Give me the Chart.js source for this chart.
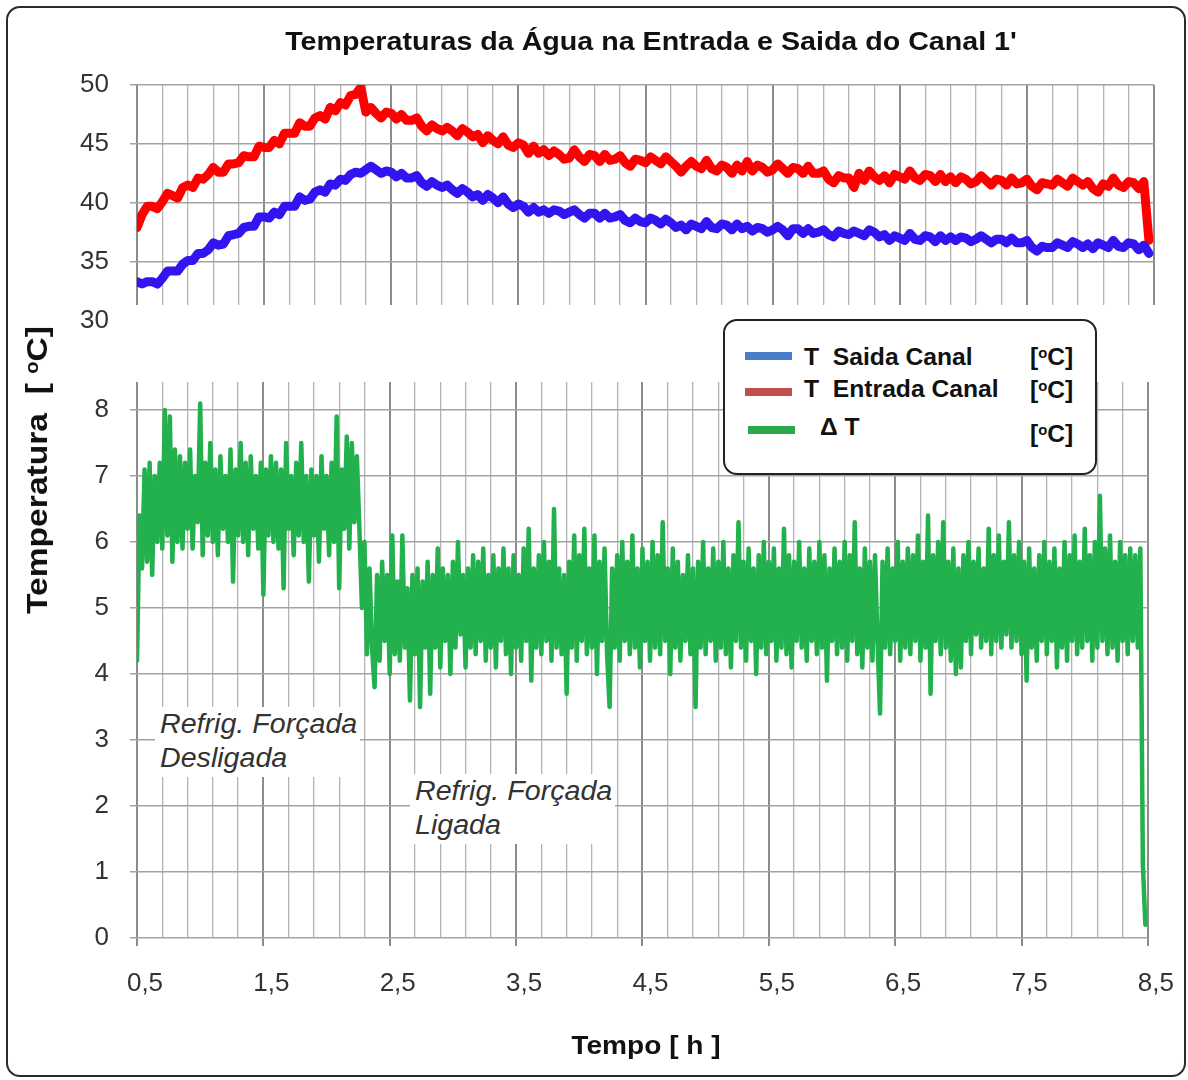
<!DOCTYPE html>
<html lang="pt">
<head>
<meta charset="utf-8">
<title>Temperaturas da Água na Entrada e Saida do Canal 1'</title>
<script src="https://cdn.jsdelivr.net/npm/chart.js@4.4.1/dist/chart.umd.min.js"></script>
<style>
  html, body { margin:0; padding:0; background:#fff; }
  #wrap { position:relative; width:1188px; height:1080px; overflow:hidden; background:#fff;
          font-family:"Liberation Sans", Arial, Helvetica, sans-serif; color:#111; }
  #frame { position:absolute; left:6px; top:6px; width:1180px; height:1071px; box-sizing:border-box;
           border:2px solid #2a2a2a; border-radius:14px; }
  canvas { position:absolute; left:0; top:0; }
  .txt { position:absolute; white-space:pre; line-height:1; }
  .sup { font-size:0.6em; vertical-align:0.5em; }
  #titulo { left:651px; top:41px; font-weight:bold; font-size:26.5px; color:#111;
            transform:translate(-50%,-50%) scaleX(1.08); }
  #xtitulo { left:646px; top:1045px; font-weight:bold; font-size:26.5px; color:#111;
             transform:translate(-50%,-50%) scaleX(1.06); }
  #ytitulo { left:37px; top:470px; font-weight:bold; font-size:30px; color:#111;
             transform:translate(-50%,-50%) rotate(-90deg) scaleX(1.12); }
  .nota { position:absolute; background:#fff; white-space:nowrap; font-style:italic; font-size:27px;
          line-height:34px; color:#333; box-sizing:border-box; padding-left:5px; width:205px; height:70px; }
  .nota span { display:inline-block; transform:scaleX(1.06); transform-origin:left center; }
  #nota1 { left:155px; top:707px; }
  #nota2 { left:410px; top:774px; }
  #legenda { position:absolute; left:723px; top:319px; width:374px; height:156px; box-sizing:border-box;
             border:2px solid #222; border-radius:14px; background:#fff; }
  .sw { position:absolute; height:8px; }
  .lt { position:absolute; white-space:pre; line-height:1; font-weight:bold; font-size:23.5px; color:#111;
        transform:translateY(-50%) scaleX(1.05); transform-origin:left center; }
</style>
</head>
<body>
<div id="wrap">
  <div id="frame"></div>
  <canvas id="cTop" width="1188" height="1080"></canvas>
  <canvas id="cBot" width="1188" height="1080"></canvas>
  <div id="titulo" class="txt">Temperaturas da Água na Entrada e Saida do Canal 1'</div>
  <div id="ytitulo" class="txt">Temperatura  [ <span class="sup">o</span>C]</div>
  <div id="xtitulo" class="txt">Tempo [ h ]</div>
  <div id="nota1" class="nota"><span>Refrig. Forçada</span><br><span>Desligada</span></div>
  <div id="nota2" class="nota"><span>Refrig. Forçada</span><br><span>Ligada</span></div>
  <div id="legenda">
    <div class="sw" style="left:20px;top:31px;width:47px;background:#4a7ecb;"></div>
    <div class="sw" style="left:20px;top:67px;width:47px;background:#c0504d;"></div>
    <div class="sw" style="left:23px;top:105px;width:47px;background:#2aa84a;"></div>
    <div class="lt" id="lg1" style="left:79px;top:37px;"></div>
    <div class="lt" id="lg2" style="left:79px;top:69px;"></div>
    <div class="lt" id="lg3" style="left:95px;top:107px;"></div>
    <div class="lt" style="left:305px;top:37px;">[<span class="sup">o</span>C]</div>
    <div class="lt" style="left:305px;top:70px;">[<span class="sup">o</span>C]</div>
    <div class="lt" style="left:305px;top:114px;">[<span class="sup">o</span>C]</div>
  </div>
</div>
<script>
// ---------------- data ----------------
const inicioTempo = 0.5;          // h, first sample
const passoTemperaturas = 0.04;   // h between samples of T saida / T entrada
const passoDelta = 0.02;          // h between samples of Delta T

const nomesSeries = ['T  Saida Canal', 'T  Entrada Canal', '\u0394 T'];

const tSaidaCanal = [
 33.3,33.1,33.3,33.3,33.1,33.6,34.2,34.2,34.2,34.8,
 35.1,35.1,35.7,35.7,36.0,36.6,36.4,36.5,37.2,37.3,
 37.4,37.9,38.0,38.0,38.8,38.8,38.7,39.2,39.0,39.7,
 39.7,39.7,40.5,40.2,40.3,40.9,41.1,40.9,41.6,41.5,
 42.0,41.9,42.4,42.6,42.5,42.8,43.1,42.8,42.5,42.7,
 42.6,42.2,42.5,42.1,42.1,42.3,41.7,41.4,41.8,41.5,
 41.3,41.5,41.1,40.8,41.2,40.9,40.5,40.7,40.2,40.7,
 40.4,40.0,40.5,39.9,39.6,39.9,39.7,39.2,39.6,39.2,
 39.4,39.1,39.4,39.3,39.0,39.2,39.4,39.0,38.7,39.1,
 39.1,38.7,39.1,38.7,38.8,39.0,38.5,38.3,38.7,38.4,
 38.3,38.7,38.5,38.2,38.6,38.3,37.9,38.1,37.7,38.2,
 38.0,37.8,38.4,37.9,37.8,38.2,38.1,37.7,38.2,37.8,
 38.0,37.6,37.9,37.8,37.5,37.7,38.0,37.7,37.2,37.8,
 37.8,37.4,37.8,37.4,37.5,37.7,37.3,37.1,37.6,37.4,
 37.3,37.6,37.4,37.2,37.7,37.5,37.1,37.3,36.8,37.2,
 37.0,36.8,37.4,36.9,36.8,37.2,37.1,36.7,37.2,36.8,
 37.1,36.8,37.1,37.0,36.7,36.9,37.2,36.9,36.6,36.9,
 36.9,36.6,37.0,36.6,36.6,36.8,36.2,35.9,36.3,36.2,
 36.2,36.6,36.4,36.2,36.7,36.5,36.2,36.5,36.1,36.6,
 36.4,36.2,36.8,36.3,36.2,36.6,36.5,36.0,36.4,35.7
];

const tEntradaCanal = [
 37.9,39.0,39.7,39.7,39.5,40.1,40.8,40.6,40.4,41.3,
 41.5,41.3,42.1,42.0,42.4,43.0,42.6,42.6,43.3,43.3,
 43.4,44.0,43.9,43.9,44.8,44.7,44.7,45.3,45.0,45.9,
 45.9,45.9,46.8,46.5,46.5,47.2,47.4,47.1,48.1,47.8,
 48.5,48.3,49.1,49.2,49.8,47.7,48.1,47.6,47.2,47.7,
 47.6,47.1,47.5,47.0,47.0,47.2,46.5,46.1,46.6,46.3,
 46.1,46.4,46.1,45.7,46.3,46.0,45.6,45.8,45.1,45.7,
 45.3,45.0,45.6,44.9,44.7,45.1,44.9,44.2,44.8,44.2,
 44.5,44.0,44.4,44.1,43.7,43.8,44.5,43.9,43.5,44.1,
 44.0,43.5,44.1,43.6,43.7,44.0,43.4,43.1,43.7,43.6,
 43.4,43.9,43.6,43.3,43.9,43.5,43.1,42.6,43.1,43.5,
 43.1,42.9,43.6,42.9,42.7,43.2,43.0,42.5,43.2,42.7,
 43.5,42.7,43.2,43.0,42.6,42.8,43.3,42.9,42.5,43.0,
 42.9,42.5,43.1,42.5,42.5,42.7,42.0,41.7,42.3,42.1,
 42.1,41.3,42.5,41.9,42.7,42.2,41.9,42.3,41.7,42.4,
 42.2,42.0,42.7,42.1,41.9,42.4,42.3,41.8,42.4,41.8,
 42.2,41.7,42.2,42.0,41.6,41.8,42.3,41.9,41.5,42.0,
 41.9,41.5,42.1,41.6,41.7,42.0,41.4,41.1,41.7,41.6,
 41.5,42.0,41.7,41.4,42.1,41.8,41.5,41.8,41.2,40.9,
 41.6,41.4,42.1,41.5,41.3,41.8,41.7,41.2,41.8,36.8
];

const deltaT = [
 4.2,6.4,5.6,7.1,5.7,7.2,5.5,7.0,6.0,7.2,
 5.9,8.0,6.1,7.9,5.7,7.4,6.0,7.3,5.9,7.2,
 6.2,7.4,5.9,7.0,6.3,8.1,5.8,7.2,6.1,7.5,
 6.0,7.1,5.8,7.3,6.2,7.0,6.0,7.4,5.4,7.1,
 6.1,7.5,6.0,7.2,5.8,7.3,6.2,7.0,5.9,7.2,
 5.2,7.1,6.1,7.3,6.0,7.2,5.9,7.1,5.3,7.5,
 6.2,7.0,5.8,7.2,6.1,7.5,6.0,7.0,5.4,7.1,
 6.1,7.0,5.7,7.3,6.2,7.0,5.8,7.2,6.0,7.9,
 5.3,7.1,6.2,7.6,5.9,7.5,6.3,7.3,6.2,5.0,
 6.0,4.3,5.6,4.4,3.8,5.5,4.2,5.7,4.5,5.5,
 4.0,6.1,4.3,5.4,4.2,6.1,4.4,5.3,3.6,5.5,
 4.3,5.6,3.5,5.4,4.4,5.7,3.7,5.5,4.4,5.9,
 4.1,5.6,4.5,5.5,4.0,5.7,4.4,6.0,4.6,5.5,
 4.1,5.6,4.4,5.8,4.3,5.7,4.5,5.9,4.2,5.5,
 4.4,5.8,4.1,5.6,4.5,5.9,4.3,5.6,4.0,5.8,
 4.4,5.5,4.2,5.9,4.5,6.2,3.9,5.6,4.4,5.8,
 4.3,6.0,4.5,5.7,4.2,6.5,4.4,5.6,4.3,5.5,
 3.7,5.7,4.4,6.1,4.2,5.8,4.5,6.2,4.3,5.6,
 4.4,6.1,4.0,5.7,4.5,5.9,4.3,3.5,5.6,4.4,
 5.8,4.2,6.0,4.5,5.7,4.3,6.1,4.4,5.6,4.1,
 5.9,4.5,5.7,4.2,6.0,4.4,5.8,4.3,6.3,4.5,
 5.6,4.0,5.9,4.4,5.7,4.2,5.5,4.5,5.8,4.3,
 5.6,3.5,5.7,4.4,6.0,4.3,5.6,4.5,5.9,4.2,
 5.7,4.4,6.0,4.3,5.6,4.1,5.8,4.5,6.3,4.4,
 5.7,4.2,5.9,4.5,5.6,4.0,5.8,4.4,6.0,4.3,
 5.7,4.5,5.9,4.2,5.6,4.4,6.2,4.3,5.8,4.1,
 5.7,4.5,6.0,4.4,5.6,4.2,5.9,4.5,5.7,4.3,
 6.0,4.4,5.8,3.9,5.6,4.5,5.9,4.3,5.7,4.4,
 6.0,4.2,5.8,4.5,6.3,4.3,5.6,4.1,5.9,4.4,
 5.7,4.2,5.8,4.5,3.4,5.7,4.4,5.9,4.3,5.6,
 4.5,6.0,4.2,5.7,4.4,5.9,4.3,5.8,4.5,6.1,
 4.2,5.7,4.4,6.4,3.7,5.8,4.5,6.0,4.3,6.3,
 4.4,5.7,4.2,5.9,4.0,5.6,4.1,5.8,4.5,6.0,
 4.3,5.7,4.6,5.9,4.4,5.6,4.5,6.2,4.3,5.8,
 4.5,6.1,4.4,5.7,4.6,6.3,4.4,5.8,4.5,6.0,
 4.3,5.7,3.9,5.9,4.4,5.6,4.2,5.8,4.5,6.0,
 4.3,5.7,4.5,5.9,4.1,5.6,4.4,6.0,4.2,5.8,
 4.5,6.1,4.3,5.7,4.4,6.2,4.5,5.8,4.2,6.0,
 4.4,6.7,4.5,5.9,4.3,6.1,4.4,5.7,4.2,6.0,
 4.5,5.8,4.3,5.9,4.5,5.8,4.4,5.9,1.1,0.2
];

// axes
const tempoMin = 0.5, tempoMax = 8.5, passoGrade = 0.2;
const rotulosTempo = ['0,5','1,5','2,5','3,5','4,5','5,5','6,5','7,5','8,5'];
const ticksTopo = [30, 35, 40, 45, 50];
const ticksBase = [0, 1, 2, 3, 4, 5, 6, 7, 8];

// ---------------- chart ----------------
const FONTE = '"Liberation Sans", Arial, Helvetica, sans-serif';
Chart.defaults.font.family = FONTE;

document.getElementById('lg1').textContent = nomesSeries[0];
document.getElementById('lg2').textContent = nomesSeries[1];
document.getElementById('lg3').textContent = nomesSeries[2];

function serie(valores, passo) {
  return valores.map((v, i) => ({ x: Math.round((inicioTempo + i * passo) * 1000) / 1000, y: v }));
}
const gradeTempo = [];
for (let k = 0; k <= Math.round((tempoMax - tempoMin) / passoGrade); k++) {
  gradeTempo.push(Math.round((tempoMin + k * passoGrade) * 10) / 10);
}
function principal(v) {
  const d = v - tempoMin;
  return Math.abs(d - Math.round(d)) < 1e-6;
}
const TRANSP = 'rgba(0,0,0,0)';

function escalaX(comRotulos) {
  return {
    type: 'linear', min: tempoMin, max: tempoMax, bounds: 'data',
    afterBuildTicks: s => { s.ticks = gradeTempo.map(v => ({ value: v })); },
    ticks: {
      display: comRotulos, autoSkip: false, maxRotation: 0, minRotation: 0,
      padding: 22, labelOffset: 8, color: '#333', font: { size: 26 },
      callback: v => principal(v) ? rotulosTempo[Math.round(v - tempoMin)] : ''
    },
    grid: {
      color: c => (c.tick && principal(c.tick.value)) ? '#8c8c8c' : '#b4b4b4',
      lineWidth: c => (c.tick && principal(c.tick.value)) ? 2 : 1.3,
      drawTicks: comRotulos, tickLength: 8, tickWidth: 2,
      tickColor: c => (c.tick && principal(c.tick.value)) ? '#8c8c8c' : TRANSP
    },
    border: { display: false },
    afterFit: s => { s.height = comRotulos ? 60 : 0; }
  };
}

function escalaY(min, max, lista, limiteGrade) {
  return {
    type: 'linear', min: min, max: max, bounds: 'data',
    afterBuildTicks: s => { s.ticks = lista.map(v => ({ value: v })); },
    ticks: { color: '#333', font: { size: 26 }, padding: 21, autoSkip: false },
    grid: {
      color: c => (c.tick && c.tick.value < limiteGrade) ? TRANSP : '#a3a3a3',
      lineWidth: 1.5, tickLength: 7
    },
    border: { display: false },
    afterFit: s => { s.width = 137; }
  };
}

const comum = {
  responsive: false, animation: false, events: [],
  plugins: { legend: { display: false }, tooltip: { enabled: false } },
  elements: { point: { radius: 0 }, line: { tension: 0, borderJoinStyle: 'round', borderCapStyle: 'round' } }
};

new Chart(document.getElementById('cTop'), {
  type: 'line',
  data: {
    datasets: [
      { label: nomesSeries[0], data: serie(tSaidaCanal, passoTemperaturas), borderColor: '#3214f0', borderWidth: 9, fill: false },
      { label: nomesSeries[1], data: serie(tEntradaCanal, passoTemperaturas), borderColor: '#ff0000', borderWidth: 9, fill: false }
    ]
  },
  options: Object.assign({}, comum, {
    layout: { padding: { left: 0, right: 34, top: 85, bottom: 775 } },
    scales: { x: escalaX(false), y: escalaY(31.32, 50, ticksTopo, 31) }
  })
});

new Chart(document.getElementById('cBot'), {
  type: 'line',
  data: {
    datasets: [
      { label: nomesSeries[2], data: serie(deltaT, passoDelta), borderColor: '#22b14c', borderWidth: 4.5, fill: false }
    ]
  },
  options: Object.assign({}, comum, {
    layout: { padding: { left: 0, right: 34, top: 382, bottom: 82 } },
    scales: { x: escalaX(true), y: escalaY(0, 8.424, ticksBase, -1) }
  })
});
</script>
</body>
</html>
